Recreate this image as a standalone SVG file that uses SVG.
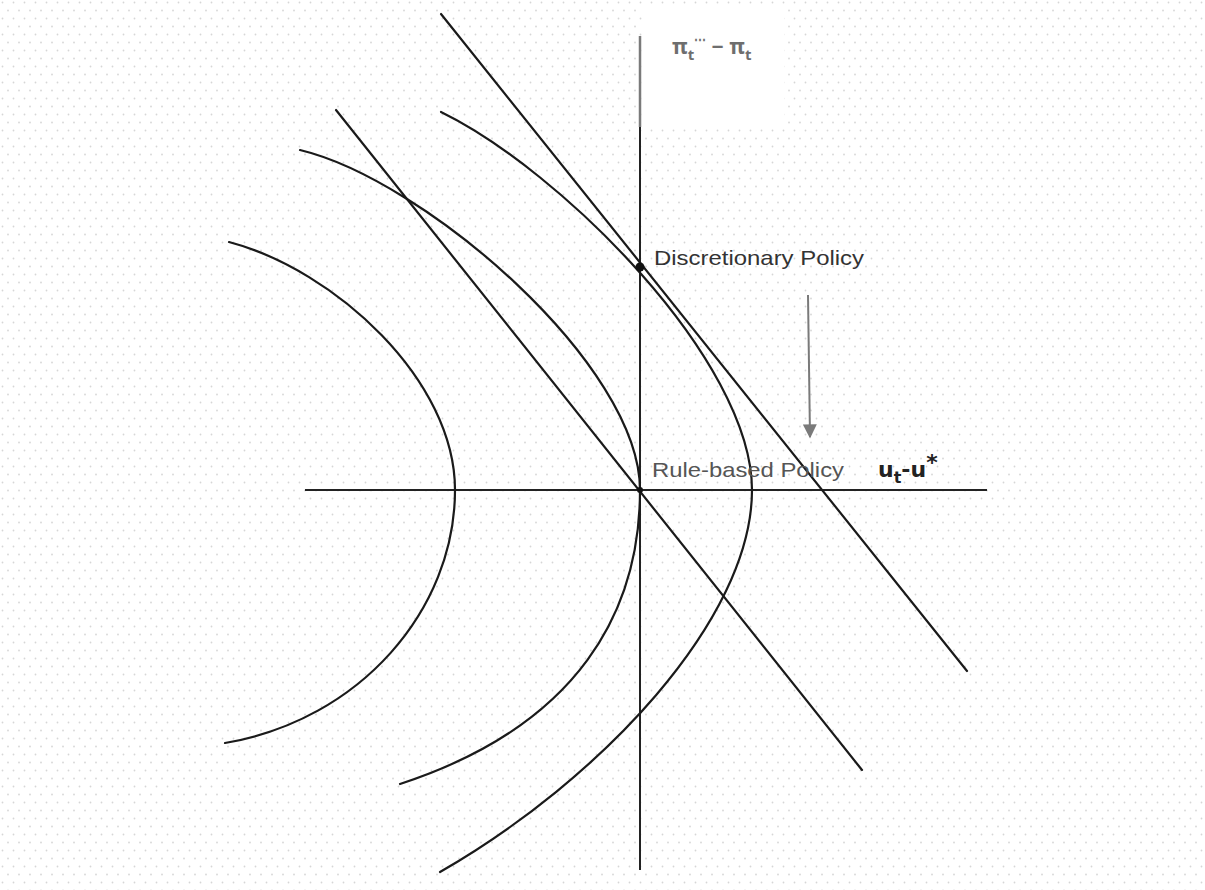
<svg xmlns="http://www.w3.org/2000/svg" width="1205" height="890" viewBox="0 0 1205 890">
<defs>
<pattern id="dots" width="11" height="16" patternUnits="userSpaceOnUse">
<circle cx="2.5" cy="2.5" r="0.9" fill="#d6d6d6"/>
<circle cx="8" cy="10.5" r="0.9" fill="#d6d6d6"/>
</pattern>
<marker id="arr" viewBox="0 0 10 10" refX="9" refY="5" markerWidth="16" markerHeight="14" markerUnits="userSpaceOnUse" orient="auto">
<path d="M0,0 L10,5 L0,10 Z" fill="#7a7a7a"/>
</marker>
<style>
.ln{fill:none;stroke:#1a1a1a;stroke-width:2.2;stroke-linecap:round}
.ax{fill:none;stroke:#222;stroke-width:2}
.lbl{font-family:"Liberation Sans",Arial,sans-serif;font-size:21px}
</style>
</defs>
<rect width="1205" height="890" fill="#fff"/>
<rect width="1205" height="890" fill="url(#dots)"/>
<rect x="643" y="8" width="141" height="119" fill="#fff"/>

<g id="axes">
<line class="ax" x1="640" y1="127" x2="640" y2="870"/>
<line x1="640" y1="36" x2="640" y2="127" stroke="#7a7a7a" stroke-width="2.5"/>
<line class="ax" x1="305" y1="490" x2="987" y2="490"/>
</g>

<g id="connectors">
<line id="lineA" class="ln" x1="441" y1="14" x2="967" y2="671"/>
<line id="lineB" class="ln" x1="336" y1="110" x2="862" y2="770"/>
<path id="curve1" class="ln" d="M229,242 C335,270 455,380 455,490 C455,610 360,720 225,743"/>
<path id="curve2" class="ln" d="M300,150 C425,180 640,365 640,490 C640,610 580,725 400,784"/>
<path id="curve3" class="ln" d="M441,112 C560,170 752,360 752,490 C752,620 600,780 440,872"/>
<line id="arrow" x1="808" y1="295" x2="810" y2="437" stroke="#7a7a7a" stroke-width="2" marker-end="url(#arr)"/>
</g>

<g id="discretionary">
<circle cx="640" cy="267" r="4.5" fill="#111"/>
<text class="lbl" x="654" y="265" fill="#333" textLength="210" lengthAdjust="spacingAndGlyphs">Discretionary Policy</text>
</g>
<g id="rulebased">
<circle cx="640" cy="490" r="3" fill="#111"/>
<text class="lbl" x="652" y="477" fill="#555" textLength="192" lengthAdjust="spacingAndGlyphs">Rule-based Policy</text>
</g>
<g id="xlabel">
<text x="878" y="477" font-family="'DejaVu Sans',sans-serif" font-weight="bold" font-size="22" fill="#222">u<tspan dy="6" font-size="16">t</tspan><tspan dy="-6">-u</tspan><tspan dy="-7" font-size="22">*</tspan></text>
</g>
<g id="ylabel">
<text x="672" y="54" font-family="'Noto Sans',sans-serif" font-weight="bold" font-size="21" fill="#6e6e6e">π<tspan dy="6" font-size="15">t</tspan><tspan dy="-16" font-size="12">⋯</tspan><tspan dy="10"> − π</tspan><tspan dy="6" font-size="15">t</tspan></text>
</g>
</svg>
